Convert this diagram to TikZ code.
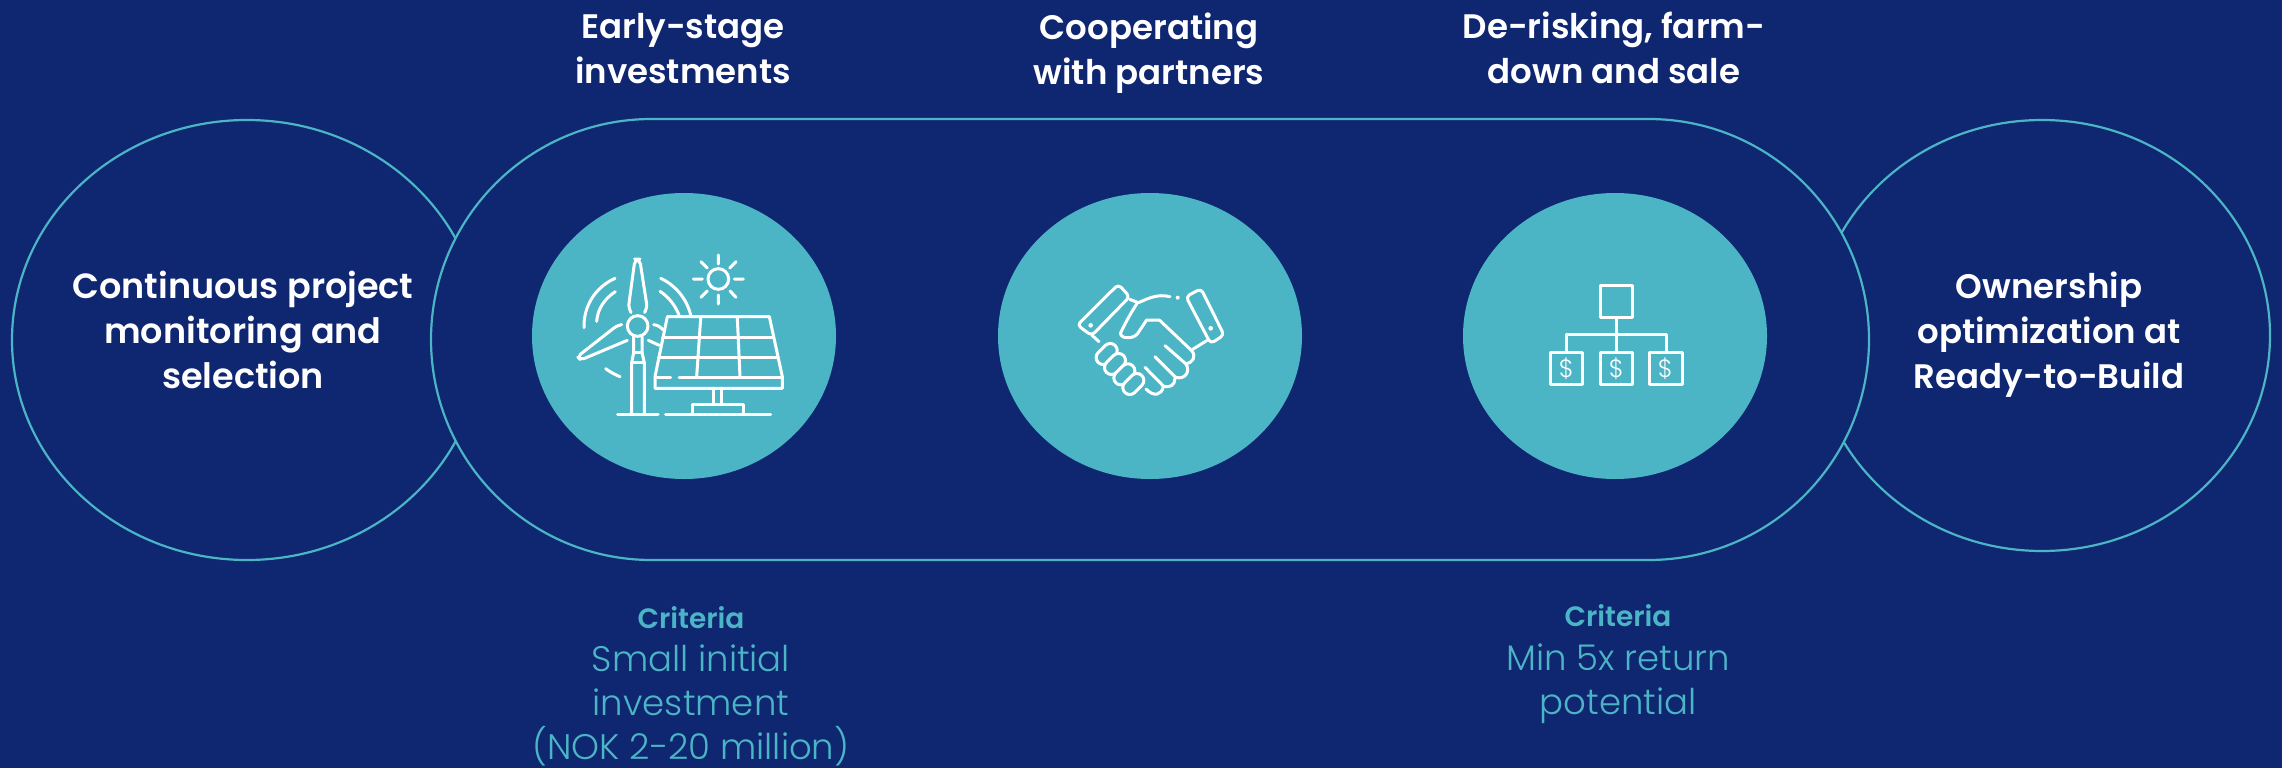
\documentclass[tikz,border=0pt]{standalone}
\usepackage{fontspec}
\setmainfont{Poppins}[UprightFont=* Light,BoldFont=* SemiBold]
\usetikzlibrary{shapes.misc,shapes.geometric}
\definecolor{bg}{HTML}{0F2671}
\definecolor{teal}{HTML}{4BB5C6}
\tikzset{
  outline/.style={draw=teal,line width=2.2pt,fill=bg},
  disc/.style={ellipse,fill=teal,minimum width=304pt,minimum height=286pt,inner sep=0pt},
  head/.style={text=white,font=\fontsize{34}{45}\selectfont\bfseries,align=center,inner sep=0pt},
  crit/.style={text=teal,font=\fontsize{35.5}{44}\selectfont,align=center,inner sep=0pt},
  crith/.style={text=teal,font=\fontsize{28}{45}\selectfont\bfseries,inner sep=0pt},
  icon/.style={draw=white,line width=3pt,line cap=round,line join=round},
  dollar/.style={text=white,font=\fontsize{25}{25}\selectfont,inner sep=0pt},
  zoomed/.style={x=0.33333pt,y=-0.33333pt}
}
\begin{document}
\begin{tikzpicture}[x=1pt,y=-1pt]
\useasboundingbox (0,0) rectangle (2282,768);
\fill[bg] (0,0) rectangle (2282,768);
\node[outline,ellipse,inner sep=0pt,minimum width=470pt,minimum height=440pt] (left) at (247,340) {};
\node[outline,ellipse,inner sep=0pt,minimum width=456pt,minimum height=431pt] (right) at (2042,335.5) {};
\node[outline,rounded rectangle,inner sep=0pt,minimum width=1438pt,minimum height=441pt] (band) at (1150,339.5) {};
\node[disc] (d1) at (684,336) {};
\node[disc] (d2) at (1150,336) {};
\node[disc] (d3) at (1615,336) {};

\node[head,font=\fontsize{35}{45}\selectfont\bfseries] (t0) at (243,330) {Continuous project\\monitoring and\\selection};
\node[head] (t4) at (2049,335) {Ownership\\optimization at\\Ready-to-Build};
\node[head] (t1) at (683,48.5) {Early-stage\\investments};
\node[head] (t2) at (1149,53) {Cooperating\\with partners};
\node[head] (t3) at (1614,48) {De-risking, farm-\\down and sale};
\node[crith] (c1) at (691,618) {Criteria};
\node[crit] (c1b) at (691,705) {Small initial\\investment\\(NOK 2-20 million)};
\node[crith] (c2) at (1618,616) {Criteria};
\node[crit] (c2b) at (1618,684) {Min 5x return\\potential};

% wind and solar icon
\begin{scope}[shift={(520,180)},zoomed]
\draw[icon,rounded corners=5pt] (331,394) -- (325,385) -- (345,237) -- (359,237) -- (382,385) -- (376,394);
\draw[icon,rounded corners=4pt] (305,434) -- (292,436) -- (172,530) -- (182,540) -- (322,481);
\draw[icon] (353,438) circle (31);
\draw[icon] (335,700) -- (335,548) -- (341,518) -- (341,470);
\draw[icon] (373,700) -- (373,548) -- (366,518) -- (366,470);
\draw[icon] (335,548) -- (373,548) (341,516) -- (366,516);
\draw[icon] (293,702) -- (414,702);
\draw[icon] (401,434) .. controls (412,435) and (422,441) .. (430,450);
\draw[icon] (385,481) -- (418,496);
\draw[icon] (257,566) .. controls (270,576) and (285,584) .. (300,590);
\draw[icon] (285,295) .. controls (225,322) and (190,380) .. (192,443);
\draw[icon] (286,335) .. controls (255,355) and (233,385) .. (230,424);
\draw[icon] (422,295) .. controls (465,315) and (500,355) .. (512,405);
\draw[icon] (420,334) .. controls (445,350) and (465,375) .. (477,405);
\draw[icon] (442,410) -- (748,410) -- (787,590) -- (787,625) -- (405,625) -- (405,590) -- cycle;
\draw[icon] (405,592) -- (452,592) (477,592) -- (785,592);
\draw[icon] (428,471) -- (757,471) (416,533) -- (770,533);
\draw[icon] (542,415) -- (530,590) (652,415) -- (660,590);
\draw[icon] (580,625) -- (580,670) (605,625) -- (605,670);
\draw[icon] (518,702) -- (518,672) -- (670,672) -- (670,702);
\draw[icon] (437,702) -- (752,702);
\draw[icon] (595,297) circle (31);
\draw[icon] (595,225) -- (595,252) (595,345) -- (595,372) (520,297) -- (547,297) (643,297) -- (670,297)
  (543,245) -- (562,264) (648,245) -- (629,264) (543,352) -- (562,333) (648,352) -- (630,333);
\end{scope}

% handshake icon
\begin{scope}[shift={(1000,180)},zoomed]
\draw[icon,rounded corners=4pt] (355,313) -- (389,350) -- (275,467) -- (232,435) -- cycle;
\fill[white] (272,436) circle (7);
\draw[icon,rounded corners=4pt] (603,326) -- (672,465) -- (632,491) -- (558,350) -- cycle;
\fill[white] (632,445) circle (7);
\fill[white] (533,353) circle (6);
\draw[icon] (389,358) -- (415,368) .. controls (440,358) and (470,340) .. (510,350);
\draw[icon] (410,372) .. controls (395,395) and (375,430) .. (362,458) .. controls (358,475) and (395,480) .. (412,462) -- (440,420) -- (478,420) -- (575,512) .. controls (590,530) and (578,548) .. (558,552) -- (495,497);
\draw[icon] (558,552) .. controls (572,575) and (555,600) .. (527,592) -- (465,530);
\draw[icon] (525,595) .. controls (525,615) and (510,625) .. (490,618) -- (435,562);
\draw[icon] (490,620) .. controls (485,645) and (462,652) .. (438,627);
\draw[icon] (578,508) -- (620,482);
\draw[icon] (275,465) -- (297,485);
\foreach \cx/\cy in {320/522,345/552,373/583,400/612}
  \draw[icon,fill=teal,rounded corners=7pt,rotate around={45:(\cx,\cy)}] (\cx-36,\cy-21) rectangle (\cx+36,\cy+21);
\end{scope}

% organisation icon
\begin{scope}[shift={(1460,180)},zoomed]
\draw[icon,line cap=butt] (420,317) rectangle (516,412);
\draw[icon] (468,412) -- (468,516);
\draw[icon] (318,516) -- (318,464) -- (618,464) -- (618,516);
\draw[icon] (270,516) rectangle (368,612);
\draw[icon] (420,516) rectangle (518,612);
\draw[icon] (568,516) rectangle (666,612);
\node[dollar] (s1) at (319,565) {\$};
\node[dollar] (s2) at (469,565) {\$};
\node[dollar] (s3) at (616,565) {\$};
\end{scope}
\end{tikzpicture}
\end{document}
